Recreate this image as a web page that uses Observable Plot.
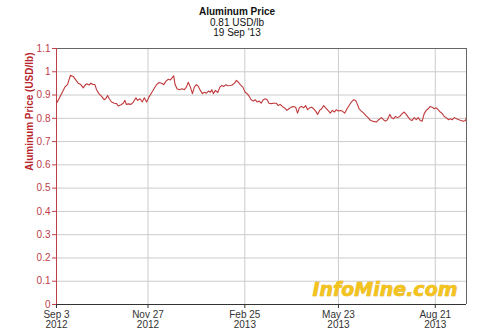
<!DOCTYPE html>
<html><head><meta charset="utf-8">
<script src="https://cdn.jsdelivr.net/npm/d3@7"></script>
<script src="https://cdn.jsdelivr.net/npm/@observablehq/plot@0.6"></script>
<style>
body{margin:0;background:#fff;font-family:Arial,"Liberation Sans",sans-serif;}
#title{height:40px;text-align:center;font-size:10px;line-height:10.5px;padding-top:7px;padding-right:6px;box-sizing:border-box;color:#111;}
#chart svg{display:block;}
</style></head><body>
<div id="title"><b>Aluminum Price</b><br>0.81 USD/lb<br>19 Sep '13</div>
<div id="chart"></div>
<script>
const startDate = "2012-09-03";
const endDate = "2013-09-19";
const dayOffsets = [0,1.5,4.6,7.7,10.2,13,15.5,17.7,20.1,22.6,24.8,27,28.5,30.4,31.9,33.8,35.7,37.2,39.4,41.9,44.3,45.9,47.5,49,51.2,53.7,55.8,57.4,59.9,62,63.6,64.8,66.7,69.2,71.4,73.8,75.4,77.6,79.7,81.6,83.8,85.9,88.4,90.6,93.1,95.3,97.7,
99.6,101.8,103.9,105.8,107.4,108.9,110.2,112,114.2,116.7,118.8,120.7,122.5,124.4,126.3,128.1,130,131.8,133.7,135.6,137.4,139.3,141.2,143,144.3,145.8,147.7,149.9,151.8,153.6,155.5,157.4,159.2,161.4,163.2,165.4,167.2,169.1,170.9,173.2,175.3,177.2,179.1,180.9,182.8,184.6,186.5,188.4,190.2,192.1,194,195.8,
197.4,199.5,201.7,204.2,206.1,207.9,209.8,211.9,214.1,216,218.2,220.3,222.2,224,225.9,227.7,229.6,231.5,233.3,235.2,237.1,238.9,240.8,242.7,244.5,246.4,248.2,250.1,252.3,254.5,256.3,258.2,260.1,261.9,263.8,265.6,267.8,270,271.9,274,276.2,278,279.3,281.2,283.3,285.5,287.3,289.6,291.7,
294.2,297.3,299.4,302,303.8,305.7,307.5,309.7,311.3,313.1,315,316.9,319,321.2,323.1,325,326.8,328.7,330.5,332.4,334.3,336.1,338,339.8,341.7,343.6,345.4,347.3,349.2,351,352.9,354.7,356.6,358.5,360.3,362.2,364.1,365.9,367.8,369.7,371.8,374,375.8,378,380.2,381];
const prices = [0.865,0.877,0.905,0.934,0.945,0.985,0.98,0.966,0.951,0.945,0.931,0.945,0.948,0.943,0.951,0.945,0.945,0.923,0.906,0.894,0.88,0.885,0.898,0.884,0.87,0.865,0.863,0.853,0.858,0.865,0.877,0.86,0.862,0.86,0.87,0.888,0.877,0.884,0.87,0.888,0.87,0.891,0.91,0.927,0.945,0.954,0.951,
0.945,0.96,0.968,0.965,0.974,0.983,0.945,0.927,0.923,0.927,0.923,0.934,0.955,0.934,0.906,0.934,0.945,0.937,0.92,0.906,0.912,0.908,0.917,0.912,0.923,0.906,0.92,0.911,0.934,0.941,0.937,0.944,0.94,0.941,0.943,0.951,0.963,0.955,0.944,0.934,0.912,0.906,0.894,0.88,0.874,0.88,0.87,0.874,0.865,0.88,0.884,0.88,
0.865,0.863,0.865,0.865,0.855,0.86,0.851,0.845,0.834,0.841,0.848,0.851,0.848,0.822,0.848,0.851,0.845,0.855,0.837,0.845,0.848,0.841,0.831,0.817,0.834,0.841,0.855,0.845,0.834,0.822,0.834,0.827,0.837,0.831,0.834,0.831,0.822,0.841,0.855,0.87,0.88,0.877,0.863,0.841,0.831,0.822,0.813,0.803,0.791,
0.787,0.784,0.794,0.803,0.794,0.788,0.794,0.817,0.803,0.798,0.808,0.803,0.808,0.82,0.827,0.817,0.805,0.794,0.791,0.803,0.794,0.803,0.791,0.788,0.82,0.834,0.841,0.851,0.848,0.841,0.845,0.837,0.827,0.82,0.808,0.803,0.794,0.798,0.794,0.803,0.798,0.794,0.791,0.787,0.791,0.805];
const tickDates = ["2012-09-03","2012-11-27","2013-02-25","2013-05-23","2013-08-21"];
const yTicks = [0,0.1,0.2,0.3,0.4,0.5,0.6,0.7,0.8,0.9,1,1.1];
const yLabel = "Aluminum Price (USD/lb)";
const watermark = "InfoMine.com";

const t0 = new Date(startDate);
const data = dayOffsets.map((d, i) => ({date: new Date(t0.getTime() + d * 864e5), price: prices[i]}));
const xTicks = tickDates.map(d => new Date(d));
const red = "#c0404a";

const chart = Plot.plot({
  width: 480, height: 296,
  marginTop: 8, marginBottom: 32, marginLeft: 56, marginRight: 14,
  style: {fontFamily: 'Arial,"Liberation Sans",sans-serif', fontSize: "10px", background: "#fff"},
  x: {type: "utc", domain: [new Date(startDate), new Date(endDate)]},
  y: {domain: [0, 1.1]},
  marks: [
    Plot.gridY(yTicks, {stroke: "#cccccc", strokeOpacity: 1}),
    Plot.gridX(xTicks, {stroke: "#cccccc", strokeOpacity: 1}),
    Plot.text([watermark], {frameAnchor: "bottom-right", dx: -9, dy: -9, textAnchor: "end", lineAnchor: "bottom",
      fontFamily: '"DejaVu Sans",sans-serif', fontSize: 19, fontWeight: "bold", fontStyle: "oblique", fill: "#f4c41e", stroke: "#d9a300", strokeWidth: 0.6}),
    Plot.line(data, {x: "date", y: "price", stroke: "#c0393b", strokeWidth: 1.1}),
    Plot.ruleY([1.1], {stroke: "#666"}),
    Plot.ruleX([new Date(endDate)], {stroke: "#666"}),
    Plot.axisY({ticks: yTicks, tickSize: 4, tickPadding: 2, color: red, label: null, tickFormat: d => String(d)}),
    Plot.ruleX([new Date(startDate)], {stroke: red}),
    Plot.axisX({ticks: xTicks, tickSize: 4, tickPadding: 2, tickFormat: d3.utcFormat("%b %-d\n%Y"), label: null, color: "#333", lineHeight: 1.05}),
    Plot.ruleY([0], {stroke: "#333"}),
    Plot.text([yLabel], {frameAnchor: "top-left", dx: -31, dy: 4, rotate: -90, textAnchor: "end", fontWeight: "bold", fill: "#b8262e", fontSize: 10})
  ]
});
document.getElementById("chart").appendChild(chart);
</script>
</body></html>
